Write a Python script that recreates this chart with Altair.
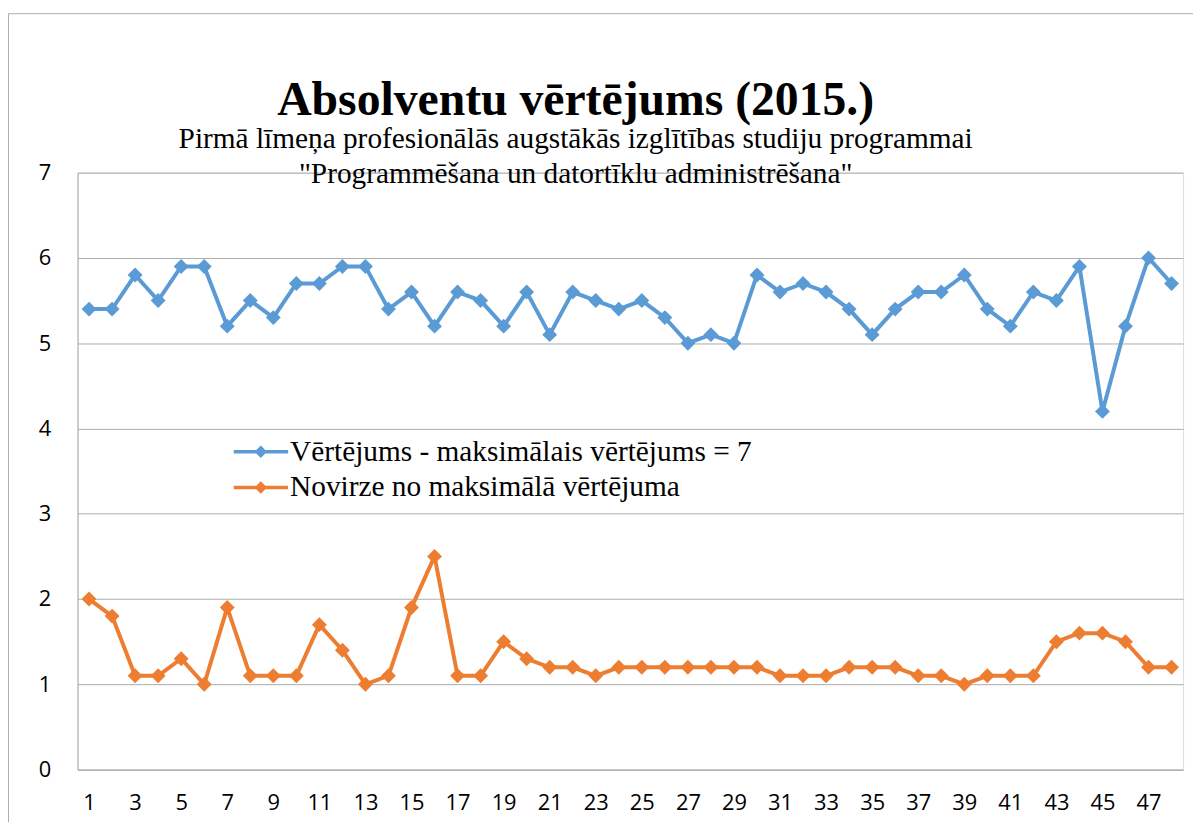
import altair as alt
import pandas as pd

x_vals = list(range(1, 49))
vertejums = [5.4, 5.4, 5.8, 5.5, 5.9, 5.9, 5.2, 5.5, 5.3, 5.7, 5.7, 5.9, 5.9, 5.4, 5.6, 5.2,
             5.6, 5.5, 5.2, 5.6, 5.1, 5.6, 5.5, 5.4, 5.5, 5.3, 5.0, 5.1, 5.0, 5.8, 5.6, 5.7,
             5.6, 5.4, 5.1, 5.4, 5.6, 5.6, 5.8, 5.4, 5.2, 5.6, 5.5, 5.9, 4.2, 5.2, 6.0, 5.7]
novirze = [2.0, 1.8, 1.1, 1.1, 1.3, 1.0, 1.9, 1.1, 1.1, 1.1, 1.7, 1.4, 1.0, 1.1, 1.9, 2.5,
           1.1, 1.1, 1.5, 1.3, 1.2, 1.2, 1.1, 1.2, 1.2, 1.2, 1.2, 1.2, 1.2, 1.2, 1.1, 1.1,
           1.1, 1.2, 1.2, 1.2, 1.1, 1.1, 1.0, 1.1, 1.1, 1.1, 1.5, 1.6, 1.6, 1.5, 1.2, 1.2]
series_names = ["Vērtējums - maksimālais vērtējums = 7", "Novirze no maksimālā vērtējuma"]
colors = ["#5B9BD5", "#ED7D31"]
x_tick_values = list(range(1, 48, 2))
y_tick_values = list(range(0, 8))

title_text = "Absolventu vērtējums (2015.)"
subtitle_lines = ["Pirmā līmeņa profesionālās augstākās izglītības studiju programmai",
                  "\"Programmēšana un datortīklu administrēšana\""]

df = pd.DataFrame({
    "x": x_vals + x_vals,
    "y": vertejums + novirze,
    "series": [series_names[0]] * len(x_vals) + [series_names[1]] * len(x_vals),
})

GRID = "#ABABAB"
LABEL_FONT = "Open Sans"
SERIF = "Liberation Serif"

# legend glyph: a short thick line with a diamond in the middle (filled shapes)
legend_path = ("M-1,-0.06L1,-0.06L1,0.06L-1,0.06Z"
               "M0,-0.23L0.23,0L0,0.23L-0.23,0Z")

legend = alt.Legend(
    title=None, orient="none", legendX=157, legendY=263,
    symbolType=legend_path, symbolSize=3025, symbolOpacity=1,
    symbolStrokeWidth=0,
    labelFont=SERIF, labelFontSize=29.5, labelColor="#000000",
    labelOffset=2, labelLimit=800, clipHeight=36, rowPadding=0,
    padding=0)

x_enc = alt.X("x:Q",
              scale=alt.Scale(domain=[0.5, 48.5], nice=False, zero=False),
              axis=alt.Axis(values=x_tick_values, title=None, grid=False, ticks=False,
                            domain=True, domainColor=GRID, labelFont=LABEL_FONT,
                            labelFontSize=22, labelColor="#000000", labelPadding=23,
                            labelFlush=False, labelOverlap=False, format="d"))
y_enc = alt.Y("y:Q",
              scale=alt.Scale(domain=[0, 7], nice=False, zero=True),
              axis=alt.Axis(values=y_tick_values, title=None, ticks=False, grid=True,
                            gridColor=GRID, domain=True, domainColor=GRID,
                            labelFont=LABEL_FONT, labelFontSize=22, labelColor="#000000",
                            labelPadding=27, format="d"))
color_scale = alt.Scale(domain=series_names, range=colors)

base = alt.Chart(df)
points = base.mark_point(shape="diamond", size=225, filled=True, opacity=1).encode(
    x="x:Q", y="y:Q",
    color=alt.Color("series:N", scale=color_scale, legend=legend))
lines = base.mark_line(strokeWidth=4).encode(
    x=x_enc, y=y_enc,
    color=alt.Color("series:N", scale=color_scale, legend=legend),
    detail="series:N")

frame = alt.Chart(pd.DataFrame({"f": [0]})).mark_rect(
    fill=None, stroke=GRID, strokeWidth=1).encode(
    x=alt.value(-69.5), x2=alt.value(1300), y=alt.value(-160), y2=alt.value(900))

chart = alt.layer(frame, lines, points).properties(
    width=1113, height=601,
    title=alt.TitleParams(
        text=title_text, subtitle=subtitle_lines,
        font=SERIF, fontSize=48, fontWeight="bold", color="#000000",
        subtitleFont=SERIF, subtitleFontSize=29.5, subtitleColor="#000000",
        subtitleLineHeight=35, subtitlePadding=0,
        anchor="middle", frame="group", dx=-55, offset=-176),
    autosize=alt.AutoSizeParams(type="none"),
    padding={"left": 70, "top": 163, "right": 10, "bottom": 50},
).configure_view(stroke=None).configure(background="white")

chart.save("out.html", embed_options={"renderer": "svg", "actions": False})
